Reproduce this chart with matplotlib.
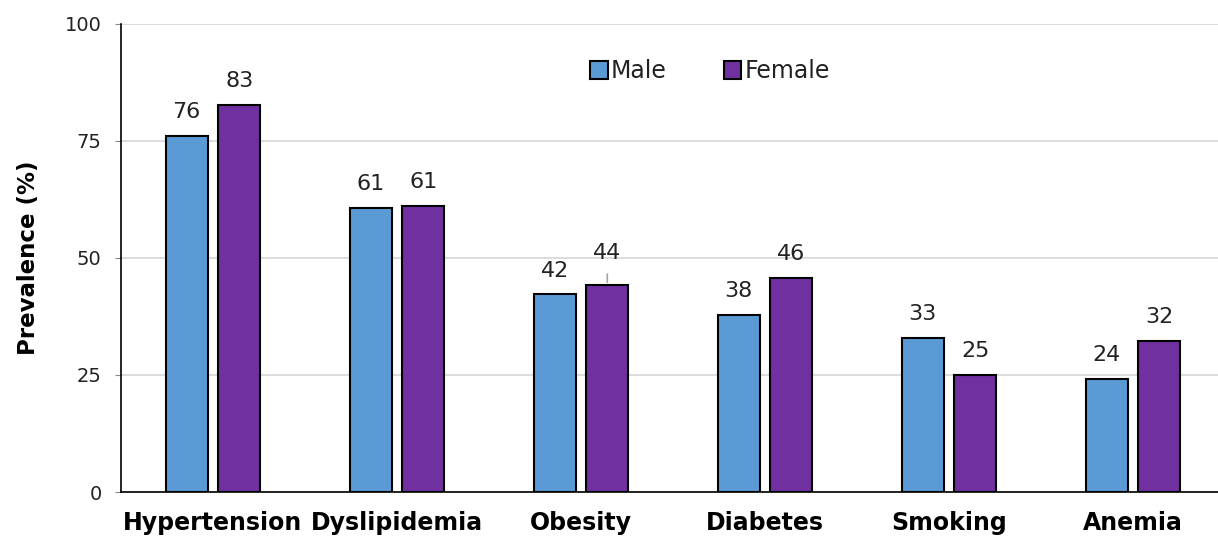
import matplotlib
matplotlib.use("Agg")
import matplotlib.pyplot as plt
import numpy as np

# Daten
categories = ["Hypertension", "Dyslipidemia", "Obesity", "Diabetes", "Smoking", "Anemia"]
male = [76.1, 60.6, 42.2, 37.9, 33.0, 24.1]
female = [82.7, 61.1, 44.2, 45.8, 25.1, 32.3]
male_labels = ["76", "61", "42", "38", "33", "24"]
female_labels = ["83", "61", "44", "46", "25", "32"]

plt.rcParams['font.family'] = ['DejaVu Sans']

fig = plt.figure(figsize=(12.18, 5.38), dpi=100)
ax = fig.add_axes([0.0993, 0.0855, 0.9007, 0.870])

x = np.arange(len(categories))
w = 0.228
off = 0.143

ax.bar(x - off, male, w, color='#5B9BD5', edgecolor='black', linewidth=1.5, label='Male', zorder=3)
ax.bar(x + off, female, w, color='#7030A0', edgecolor='black', linewidth=1.5, label='Female', zorder=3)

# Wertebeschriftungen
for i in range(len(categories)):
    ax.annotate(male_labels[i], (x[i] - off, male[i]), xytext=(0, 10), textcoords='offset points',
                ha='center', va='bottom', fontsize=16, color='#222222')
    if i == 2:
        # Obesity Female: Label nach oben versetzt mit Hinweislinie
        ax.annotate(female_labels[i], (x[i] + off, female[i]), xytext=(0, 16), textcoords='offset points',
                    ha='center', va='bottom', fontsize=16, color='#222222')
        ax.annotate('', (x[i] + off, female[i]), xytext=(0, 10), textcoords='offset points',
                    arrowprops=dict(arrowstyle='-', color='#a6a6a6', lw=1.2))
    else:
        ax.annotate(female_labels[i], (x[i] + off, female[i]), xytext=(0, 10), textcoords='offset points',
                    ha='center', va='bottom', fontsize=16, color='#222222')

ax.set_xlim(-0.5, 5.462)
ax.set_ylim(0, 100)
ax.set_yticks([0, 25, 50, 75, 100])
ax.set_xticks(x)
ax.set_xticklabels(categories, fontsize=17, fontweight='bold')
ax.tick_params(axis='x', length=0, pad=14)
ax.tick_params(axis='y', labelsize=14, length=4, color='#888888', pad=10, labelcolor='#222222')

ax.grid(axis='y', color='#d9d9d9', linewidth=1.3, zorder=0)
ax.set_axisbelow(True)
for s in ['top', 'right']:
    ax.spines[s].set_visible(False)
ax.spines['left'].set_color('black')
ax.spines['bottom'].set_color('black')
ax.spines['left'].set_linewidth(1.2)
ax.spines['bottom'].set_linewidth(1.2)

ax.set_ylabel('Prevalence (%)', fontsize=16.5, fontweight='bold', labelpad=18)

ax.legend(loc='upper center', bbox_to_anchor=(0.537, 0.97), ncol=2, frameon=False, fontsize=17,
          handlelength=0.75, handleheight=0.75, handletextpad=0.15, columnspacing=2.4,
          labelcolor='#222222')

fig.savefig('out.png', dpi=100)
